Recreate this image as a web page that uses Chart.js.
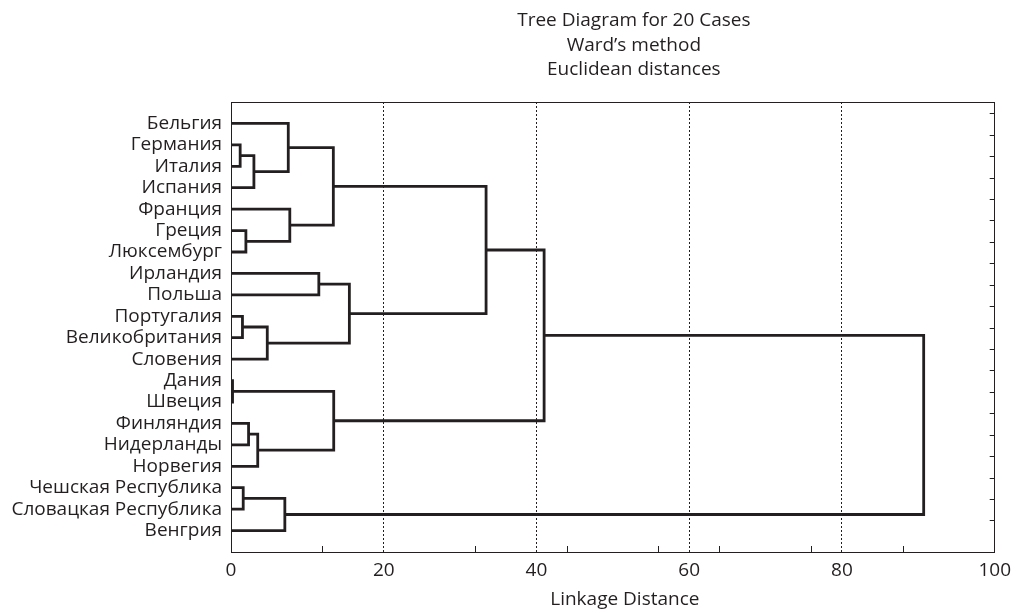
<!DOCTYPE html>
<html lang="ru">
<head>
    <meta charset="UTF-8">
    <title>Tree Diagram for 20 Cases</title>
    <script src="https://cdn.jsdelivr.net/npm/chart.js"></script>
    <style>
        html, body { margin: 0; padding: 0; background: #fff; }
        canvas { display: block; }
    </style>
</head>
<body>
    <canvas id="arvore" width="1024" height="613"></canvas>
    <script>
        // leaves, top to bottom
        const cases = ['Бельгия', 'Германия', 'Италия', 'Испания', 'Франция', 'Греция', 'Люксембург',
            'Ирландия', 'Польша', 'Португалия', 'Великобритания', 'Словения', 'Дания', 'Швеция',
            'Финляндия', 'Нидерланды', 'Норвегия', 'Чешская Республика', 'Словацкая Республика', 'Венгрия'];

        // merge steps: ids 0-19 are the leaves, each step k creates cluster 20+k
        const mergeLeft  = [12, 1, 9, 17, 5, 14, 21, 25, 22, 23, 0, 4, 7, 30, 20, 32, 33, 36, 37];
        const mergeRight = [13, 2, 10, 18, 6, 15, 3, 16, 11, 19, 26, 24, 8, 31, 27, 28, 35, 34, 29];
        const mergeDist  = [0.2, 1.2, 1.5, 1.6, 1.95, 2.3, 3.0, 3.5, 4.75, 7.05, 7.5, 7.7, 11.5, 13.4, 13.45, 15.5, 33.4, 41.0, 90.7];

        const xTicks = [0, 12, 20, 32, 40, 44, 56, 60, 64, 76, 80, 88, 100];
        const xLabelStep = 20;

        const titleLines = ['Tree Diagram for 20 Cases', 'Ward\u2019s method', 'Euclidean distances'];
        const xTitle = 'Linkage Distance';

        const ink = '#231f20';
        const none = 'rgba(0,0,0,0)';
        const fontName = "'Open Sans', 'Noto Sans', sans-serif";
        const fontSize = 19;
        Chart.defaults.font.family = fontName;
        Chart.defaults.color = ink;

        // build the elbow links from the merge table
        const nodeY = cases.map((c, i) => i + 1);
        const nodeH = cases.map(() => 0);
        const links = mergeDist.map((d, k) => {
            const a = mergeLeft[k], b = mergeRight[k];
            nodeY.push((nodeY[a] + nodeY[b]) / 2);
            nodeH.push(d);
            return {
                data: [
                    { x: nodeH[a], y: nodeY[a] },
                    { x: d, y: nodeY[a] },
                    { x: d, y: nodeY[b] },
                    { x: nodeH[b], y: nodeY[b] }
                ],
                showLine: true,
                borderColor: ink,
                borderWidth: 2.8,
                borderJoinStyle: 'miter',
                pointRadius: 0,
                fill: false,
                clip: false
            };
        });

        const isMajor = v => v % xLabelStep === 0;

        // the titles sit a little right of the plot centre in the original
        const captions = {
            id: 'captions',
            afterDraw(chart) {
                const { ctx, chartArea } = chart;
                const mid = (chartArea.left + chartArea.right) / 2;
                ctx.save();
                ctx.fillStyle = ink;
                ctx.font = fontSize + 'px ' + fontName;
                ctx.textAlign = 'center';
                ctx.textBaseline = 'middle';
                titleLines.forEach((t, i) => ctx.fillText(t, mid + 21, 21 + i * 24.5));
                ctx.fillText(xTitle, mid + 12, 600);
                ctx.restore();
            }
        };

        new Chart(document.getElementById('arvore'), {
            type: 'scatter',
            data: { datasets: links },
            plugins: [captions],
            options: {
                responsive: false,
                animation: false,
                events: [],
                layout: { padding: 0 },
                plugins: {
                    legend: { display: false },
                    tooltip: { enabled: false }
                },
                scales: {
                    x: {
                        type: 'linear', position: 'bottom', min: 0, max: 100,
                        afterBuildTicks: s => { s.ticks = xTicks.map(v => ({ value: v })); },
                        afterFit: s => { s.height = 61; },
                        ticks: {
                            autoSkip: false, maxRotation: 0, padding: 13,
                            font: { size: fontSize },
                            callback: v => isMajor(v) ? String(v) : ''
                        },
                        grid: {
                            lineWidth: 1,
                            tickLength: -6,
                            color: c => (c.tick && isMajor(c.tick.value) && c.tick.value > 0 && c.tick.value < 100) ? ink : none,
                            tickColor: c => (c.tick && isMajor(c.tick.value)) ? none : ink
                        },
                        border: { display: true, color: ink, width: 1, dash: [2, 2] }
                    },
                    x2: {
                        type: 'linear', position: 'top', min: 0, max: 100,
                        afterFit: s => { s.height = 102; },
                        ticks: { display: false },
                        grid: { display: false, drawTicks: false },
                        border: { display: true, color: ink, width: 1 }
                    },
                    y: {
                        type: 'linear', position: 'left', min: 0, max: 21, reverse: true,
                        afterBuildTicks: s => { s.ticks = cases.map((c, i) => ({ value: i + 1 })); },
                        afterFit: s => { s.width = 231; },
                        ticks: {
                            autoSkip: false, padding: 9,
                            font: { size: fontSize },
                            callback: v => cases[Math.round(v) - 1]
                        },
                        grid: { display: false, drawTicks: false },
                        border: { display: true, color: ink, width: 1 }
                    },
                    y2: {
                        type: 'linear', position: 'right', min: 0, max: 21, reverse: true,
                        afterBuildTicks: s => { s.ticks = cases.map((c, i) => ({ value: i + 0.55 })); },
                        afterFit: s => { s.width = 27; },
                        ticks: { display: false },
                        grid: { drawOnChartArea: false, tickLength: -5, tickColor: ink, color: none },
                        border: { display: true, color: ink, width: 1 }
                    }
                }
            }
        });
    </script>
</body>
</html>
